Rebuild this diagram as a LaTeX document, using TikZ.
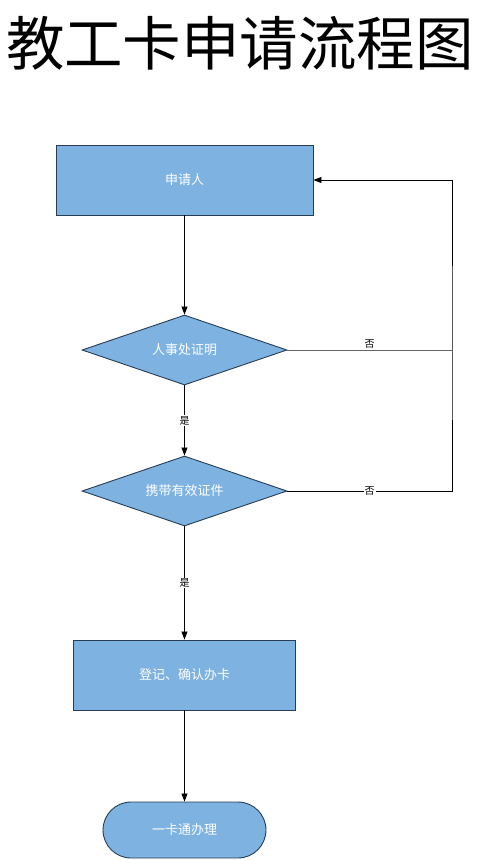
\documentclass[tikz,border=0pt]{standalone}
\usepackage{fontspec}
\newfontfamily\cjk{Noto Sans CJK SC}
\usetikzlibrary{shapes.geometric,shapes.misc,arrows.meta}
\definecolor{boxfill}{RGB}{126,178,224}
\definecolor{boxline}{RGB}{40,60,85}
\tikzset{
  x=1pt,y=-1pt,
  procbox/.style={draw=boxline,fill=boxfill,line width=0.9pt,minimum width=257pt,minimum height=70pt,inner sep=0pt,text=white,font=\cjk\fontsize{13}{15}\selectfont},
  decide/.style={diamond,draw=boxline,fill=boxfill,line width=0.9pt,aspect=2.93,minimum width=205pt,minimum height=70pt,inner sep=0pt,text=white,font=\cjk\fontsize{13}{15}\selectfont},
  termbox/.style={rounded rectangle,draw=boxline,fill=boxfill,line width=0.9pt,minimum width=163pt,minimum height=56pt,inner sep=0pt,text=white,font=\cjk\fontsize{13}{15}\selectfont},
  conn/.style={draw=black,line width=0.8pt},
  arr/.style={conn,-{Triangle[length=8pt,width=6pt]}},
  lbl/.style={fill=white,inner sep=1pt,font=\cjk\fontsize{10}{12}\selectfont}
}
\begin{document}
\begin{tikzpicture}
\useasboundingbox (0,0) rectangle (480,860);
\node[font=\cjk\fontsize{58.5}{62}\selectfont] (title) at (240,43) {教工卡申请流程图};
\node[procbox] (apply) at (184.5,180) {申请人};
\node[decide] (hr) at (184.5,350) {人事处证明};
\node[decide] (doc) at (184.5,491) {携带有效证件};
\node[procbox,minimum width=222pt] (reg) at (184.5,675) {登记、确认办卡};
\node[termbox] (card) at (184.5,830) {一卡通办理};
\coordinate (c1) at (452,350);
\coordinate (c2) at (452,491);
\coordinate (c0) at (452,180);
\draw[arr] (apply) -- (hr);
\draw[arr] (hr) -- node[lbl]{是} (doc);
\draw[arr] (doc) -- node[lbl,pos=0.5]{是} (reg);
\draw[arr] (reg) -- (card);
\draw[conn,draw=black!60] (hr.east) -- node[lbl,pos=0.5,yshift=6pt,fill=none]{否} (c1);
\draw[conn] (doc.east) -- node[lbl,pos=0.5]{否} (c2) -- (c1) -- (c0);
\draw[arr] (c0) -- (apply.east);
\end{tikzpicture}
\end{document}
